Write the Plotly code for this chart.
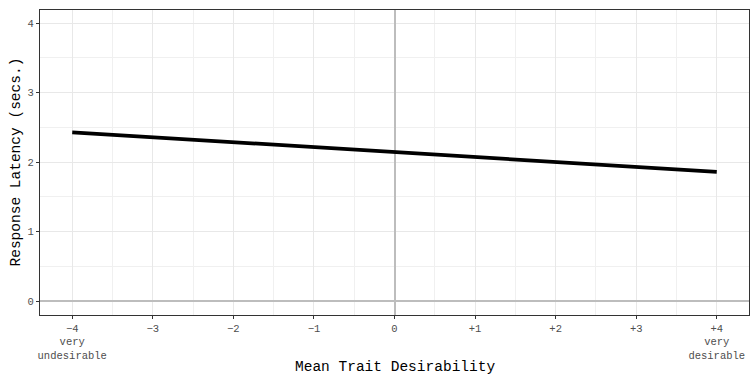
import plotly.graph_objects as go

desirability = [-4, 4]
latency = [2.43, 1.86]

x_tick_vals = [-4, -3, -2, -1, 0, 1, 2, 3, 4]
x_tick_text = ["−4<br>very<br>undesirable", "−3", "−2", "−1", "0", "+1", "+2", "+3", "+4<br>very<br>desirable"]
y_tick_vals = [0, 1, 2, 3, 4]
y_tick_text = ["0", "1", "2", "3", "4"]

FONT = "Liberation Mono"

fig = go.Figure()
fig.add_trace(go.Scatter(x=desirability, y=latency, mode="lines",
                         line=dict(color="black", width=3.7), showlegend=False,
                         hoverinfo="skip"))

fig.update_layout(
    width=750, height=375,
    margin=dict(l=40, r=1, t=10, b=60),
    paper_bgcolor="white", plot_bgcolor="white",
    font=dict(family=FONT, color="black"),
    annotations=[
        dict(text="Mean Trait Desirability", xref="paper", yref="paper",
             x=0.5, y=0, yshift=-52, xanchor="center", yanchor="middle",
             showarrow=False, font=dict(family=FONT, size=14.5, color="black")),
        dict(text="Response Latency (secs.)", xref="paper", yref="paper",
             x=0, y=0.5, xshift=-25, xanchor="center", yanchor="middle", textangle=-90,
             showarrow=False, font=dict(family=FONT, size=14.5, color="black")),
    ],
)

axis_common = dict(
    automargin=False,
    showline=True, linecolor="#333333", linewidth=1, mirror=True,
    ticks="outside", ticklen=3, tickcolor="#333333", tickwidth=1,
    showgrid=True, gridcolor="#e8e8e8", gridwidth=1,
    zeroline=True, zerolinecolor="#bdbdbd", zerolinewidth=1.5,
    tickfont=dict(family=FONT, size=10.5, color="#4d4d4d"),
)

fig.update_xaxes(
    range=[-4.4, 4.4], tickmode="array", tickvals=x_tick_vals, ticktext=x_tick_text,
    minor=dict(tickvals=[-3.5, -2.5, -1.5, -0.5, 0.5, 1.5, 2.5, 3.5], showgrid=True,
               gridcolor="#f0f0f0", gridwidth=0.8, ticks=""),
    **axis_common,
)
fig.update_yaxes(
    range=[-0.2, 4.19], tickmode="array", tickvals=y_tick_vals, ticktext=y_tick_text,
    minor=dict(tickvals=[0.5, 1.5, 2.5, 3.5], showgrid=True,
               gridcolor="#f0f0f0", gridwidth=0.8, ticks=""),
    **axis_common,
)

fig.write_html("out.html", config={"displayModeBar": False},
               post_script="document.body.style.margin='0';document.body.style.overflow='hidden';")
